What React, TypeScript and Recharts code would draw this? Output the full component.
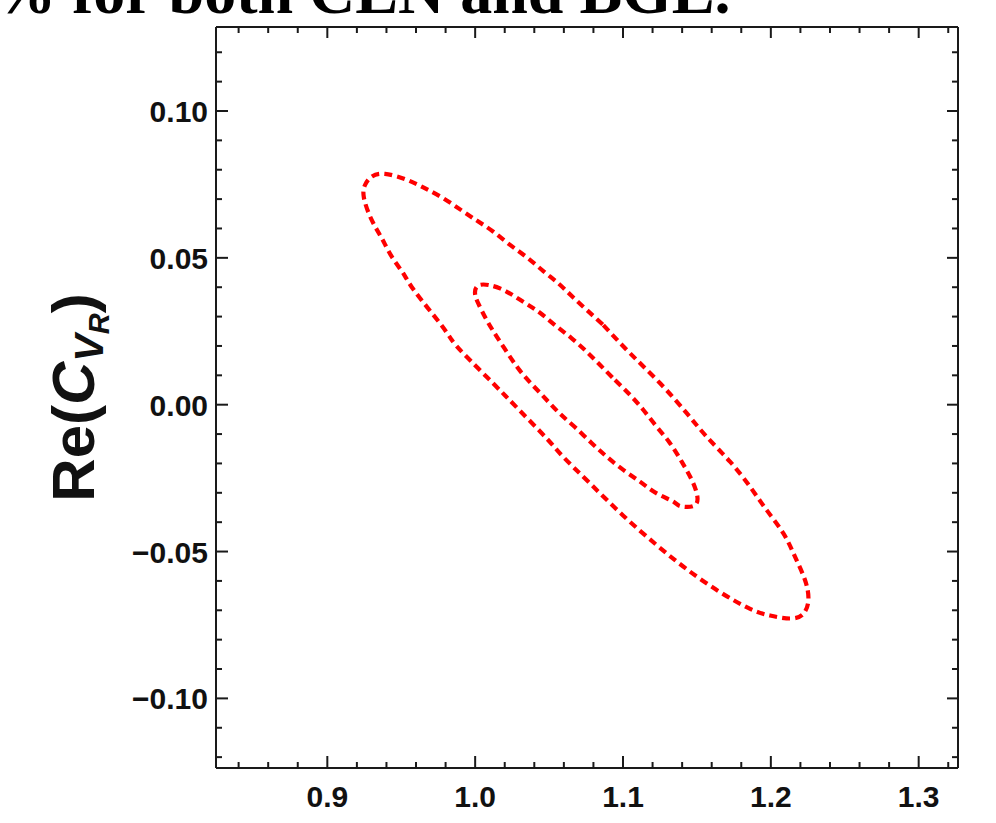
import React from 'react';
import { ComposedChart, Line, XAxis, YAxis } from 'recharts';

// Outer contour, clockwise, starting on the upper-right side
const outerX = [1.0867, 1.1048, 1.1251, 1.1431, 1.1566, 1.1724, 1.1859, 1.1972, 1.2085, 1.2164, 1.2231, 1.2254, 1.2218, 1.213, 1.1995, 1.186, 1.1656, 1.1431, 1.1228, 1.1002, 1.0777, 1.0596, 1.0484, 1.0292, 1.0123, 0.9931, 0.9842, 0.9762, 0.9593, 0.9514, 0.9436, 0.9368, 0.93, 0.9248, 0.9255, 0.9302, 0.939, 0.9526, 0.9649, 0.9774, 0.9898, 1.0011, 1.0123, 1.0236, 1.0349, 1.0461, 1.0563, 1.0664, 1.0867];
const outerY = [0.0271, 0.0175, 0.0073, -0.0029, -0.0109, -0.0194, -0.0279, -0.0359, -0.0438, -0.0518, -0.0597, -0.0665, -0.0713, -0.0728, -0.0718, -0.0695, -0.0638, -0.056, -0.0478, -0.0378, -0.0268, -0.0178, -0.0115, -0.0015, 0.0072, 0.0169, 0.022, 0.0277, 0.0385, 0.0447, 0.0504, 0.0567, 0.0629, 0.0703, 0.0748, 0.0777, 0.0786, 0.0768, 0.074, 0.0706, 0.0665, 0.0627, 0.0589, 0.0544, 0.0502, 0.0455, 0.0413, 0.0365, 0.0271];

// Inner contour, clockwise, starting on the upper-right side
const innerX = [1.0946, 1.1048, 1.1138, 1.1228, 1.1318, 1.1397, 1.1465, 1.1503, 1.1476, 1.1386, 1.1341, 1.1228, 1.1115, 1.1002, 1.089, 1.0789, 1.0676, 1.0574, 1.0484, 1.0394, 1.0304, 1.0224, 1.0146, 1.0078, 1.0021, 0.9999, 1.0033, 1.0168, 1.0304, 1.0427, 1.054, 1.0653, 1.0755, 1.0845, 1.0946];
const innerY = [0.0084, 0.0033, -0.0018, -0.0075, -0.0131, -0.0194, -0.0256, -0.0313, -0.0345, -0.0345, -0.033, -0.0302, -0.0262, -0.0222, -0.0177, -0.0131, -0.0077, -0.0031, 0.0016, 0.0064, 0.0115, 0.0172, 0.0232, 0.0288, 0.0345, 0.038, 0.0408, 0.0396, 0.0357, 0.0317, 0.0271, 0.0226, 0.018, 0.0135, 0.0084];

const xTicks = [0.84, 0.86, 0.88, 0.9, 0.92, 0.94, 0.96, 0.98, 1.0, 1.02, 1.04, 1.06, 1.08, 1.1, 1.12, 1.14, 1.16, 1.18, 1.2, 1.22, 1.24, 1.26, 1.28, 1.3, 1.32];
const xMajor = [0.9, 1.0, 1.1, 1.2, 1.3];
const xLabels = ['0.9', '1.0', '1.1', '1.2', '1.3'];
const yTicks = [-0.12, -0.11, -0.1, -0.09, -0.08, -0.07, -0.06, -0.05, -0.04, -0.03, -0.02, -0.01, 0, 0.01, 0.02, 0.03, 0.04, 0.05, 0.06, 0.07, 0.08, 0.09, 0.1, 0.11, 0.12];
const yMajor = [-0.1, -0.05, 0, 0.05, 0.1];
const yLabels = ['\u22120.10', '\u22120.05', '0.00', '0.05', '0.10'];

const xDomain = [0.8247, 1.3266];
const yDomain = [-0.1237, 0.1286];

const outerData = outerX.map((x, i) => ({ x, y: outerY[i] }));
const innerData = innerX.map((x, i) => ({ x, y: innerY[i] }));

const FRAME = '#1a1a1a';
const TICK_FONT = { fontFamily: '"Liberation Sans", Arial, sans-serif', fontWeight: 700, fontSize: 30, fill: '#111' };

const majorIdx = (arr: number[], v: number) => arr.findIndex((m) => Math.abs(m - v) < 1e-6);

const BottomTick = (p: any) => {
  const { x, y, payload } = p;
  const i = majorIdx(xMajor, payload.value);
  const len = i >= 0 ? 12 : 6;
  return (
    <g>
      <line x1={x} x2={x} y1={y} y2={y - len} stroke={FRAME} strokeWidth={2} />
      {i >= 0 && (
        <text x={x} y={y + 39} textAnchor="middle" style={TICK_FONT as any}>{xLabels[i]}</text>
      )}
    </g>
  );
};

const TopTick = (p: any) => {
  const { x, y, payload } = p;
  const i = majorIdx(xMajor, payload.value);
  const len = i >= 0 ? 11 : 6;
  return <line x1={x} x2={x} y1={y} y2={y + len} stroke={FRAME} strokeWidth={2} />;
};

const LeftTick = (p: any) => {
  const { x, y, payload } = p;
  const i = majorIdx(yMajor, payload.value);
  const len = i >= 0 ? 12 : 6;
  return (
    <g>
      <line x1={x} x2={x + len} y1={y} y2={y} stroke={FRAME} strokeWidth={2} />
      {i >= 0 && (
        <text x={x - 8} y={y + 11} textAnchor="end" style={TICK_FONT as any}>{yLabels[i]}</text>
      )}
    </g>
  );
};

const RightTick = (p: any) => {
  const { x, y, payload } = p;
  const i = majorIdx(yMajor, payload.value);
  const len = i >= 0 ? 11 : 6;
  return <line x1={x} x2={x - len} y1={y} y2={y} stroke={FRAME} strokeWidth={2} />;
};

const YLabel = (p: any) => {
  const vb = p.viewBox || { x: 0, y: 27, width: 216, height: 741 };
  const cx = vb.x + 94;
  const cy = vb.y + vb.height / 2;
  return (
    <text
      x={cx}
      y={cy}
      transform={`rotate(-90, ${cx}, ${cy})`}
      textAnchor="middle"
      style={{ fontFamily: '"Liberation Sans", Arial, sans-serif', fontWeight: 700, fontSize: 60, fill: '#111' }}
    >
      <tspan>Re(</tspan>
      <tspan fontStyle="italic">C</tspan>
      <tspan fontStyle="italic" fontSize={41} dy={9}>V</tspan>
      <tspan fontStyle="italic" fontSize={29} dy={6}>R</tspan>
      <tspan dy={-15}>)</tspan>
    </text>
  );
};

export default function App() {
  return (
    <div style={{ position: 'absolute', left: 0, top: 0, width: 996, height: 823, background: '#fff', overflow: 'hidden' }}>
      <ComposedChart width={996} height={823} margin={{ top: 0, right: 0, bottom: 0, left: 0 }}>
        <XAxis
          xAxisId="b"
          dataKey="x"
          type="number"
          orientation="bottom"
          domain={xDomain}
          allowDataOverflow
          ticks={xTicks}
          interval={0}
          height={55}
          tickSize={0}
          tickMargin={0}
          tickLine={false}
          axisLine={{ stroke: FRAME, strokeWidth: 2 }}
          tick={<BottomTick />}
        />
        <XAxis
          xAxisId="t"
          dataKey="x"
          type="number"
          orientation="top"
          domain={xDomain}
          allowDataOverflow
          ticks={xTicks}
          interval={0}
          height={27}
          tickSize={0}
          tickMargin={0}
          tickLine={false}
          axisLine={{ stroke: FRAME, strokeWidth: 2 }}
          tick={<TopTick />}
        />
        <YAxis
          yAxisId="l"
          type="number"
          orientation="left"
          domain={yDomain}
          allowDataOverflow
          ticks={yTicks}
          interval={0}
          width={216}
          tickSize={0}
          tickMargin={0}
          tickLine={false}
          axisLine={{ stroke: FRAME, strokeWidth: 2 }}
          tick={<LeftTick />}
          label={{ content: <YLabel /> } as any}
        />
        <YAxis
          yAxisId="r"
          type="number"
          orientation="right"
          domain={yDomain}
          allowDataOverflow
          ticks={yTicks}
          interval={0}
          width={38}
          tickSize={0}
          tickMargin={0}
          tickLine={false}
          axisLine={{ stroke: FRAME, strokeWidth: 2 }}
          tick={<RightTick />}
        />
        <Line
          xAxisId="b"
          yAxisId="l"
          data={outerData}
          dataKey="y"
          type="natural"
          stroke="#ff0000"
          strokeWidth={4.2}
          strokeDasharray="8 5"
          dot={false}
          isAnimationActive={false}
        />
        <Line
          xAxisId="b"
          yAxisId="l"
          data={innerData}
          dataKey="y"
          type="natural"
          stroke="#ff0000"
          strokeWidth={4.2}
          strokeDasharray="8 5"
          dot={false}
          isAnimationActive={false}
        />
      </ComposedChart>
      <svg width={996} height={823} style={{ position: 'absolute', left: 0, top: 0, pointerEvents: 'none' }}>
        <text x={-8} y={13} style={{ fontFamily: '"Liberation Serif", "Times New Roman", serif', fontWeight: 700, fontSize: 64, fill: '#000' }}>
          % for both CLN and BGL.
        </text>
      </svg>
    </div>
  );
}
